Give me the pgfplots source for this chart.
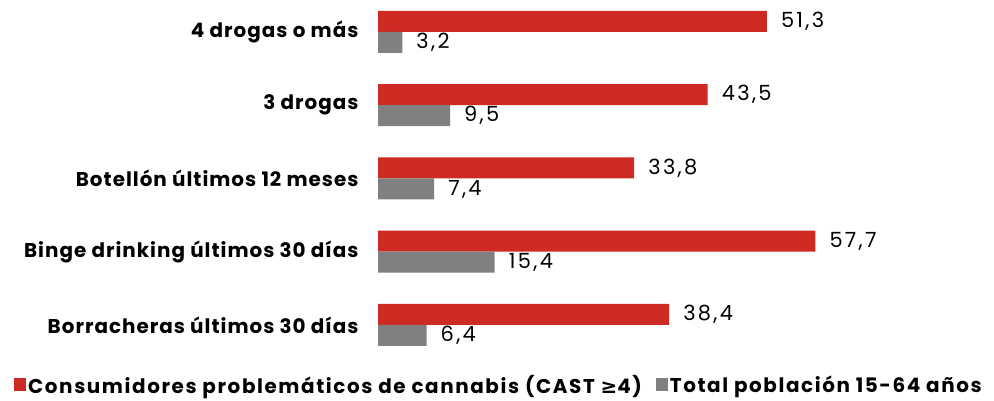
\documentclass[border=0pt]{standalone}
\usepackage{pgfplots}
\pgfplotsset{compat=1.18}
\usepackage{fontspec}
\setmainfont{Poppins}
\newfontfamily\catfont[LetterSpace=5]{Poppins}
\newfontfamily\valfont[LetterSpace=11]{Poppins}
\newfontfamily\legfont[LetterSpace=8]{Poppins}
\newfontfamily\symfont{DejaVu Sans}
\definecolor{cred}{RGB}{206,42,36}
\definecolor{cgrey}{RGB}{128,128,128}
\begin{document}
\begin{tikzpicture}[x=1bp,y=1bp]
\useasboundingbox (0,0) rectangle (994,400);
\begin{axis}[
 at={(378bp,38.4bp)}, anchor=south west,
 scale only axis, width=606.4bp, height=366.25bp,
 xmin=0, xmax=80, ymin=-0.5, ymax=4.5,
 xbar, bar width=21bp,
 axis line style={draw=none}, major tick length=0pt,
 xtick=\empty, ytick={0,1,2,3,4},
 yticklabels={Borracheras últimos 30 días, Binge drinking últimos 30 días, Botellón últimos 12 meses, 3 drogas, 4 drogas o más},
 yticklabel style={font=\catfont\bfseries\fontsize{20}{22}\selectfont, xshift=-16bp},
 /pgf/number format/use comma, /pgf/number format/fixed, /pgf/number format/fixed zerofill, /pgf/number format/precision=1, /pgf/number format/assume math mode=true,
 nodes near coords,
 nodes near coords style={font=\valfont\fontsize{21}{23}\selectfont, anchor=west, inner sep=0pt, xshift=14bp, text=black},
 legend columns=2,
 legend style={draw=none, at={(0.1995,-0.0639)}, anchor=center, font=\legfont\bfseries\fontsize{20}{22}\selectfont, /tikz/every even column/.append style={column sep=12bp}},
 legend image code/.code={\fill[#1] (0bp,-6bp) rectangle (12bp,7bp);},
]
\addplot[fill=cred, draw=none, bar shift=10.5bp] coordinates {(38.4,0) (57.7,1) (33.8,2) (43.5,3) (51.3,4)};
\addlegendentry{Consumidores problemáticos de cannabis (CAST {\symfont\bfseries ≥}4)}
\addplot[fill=cgrey, draw=none, bar shift=-10.5bp] coordinates {(6.4,0) (15.4,1) (7.4,2) (9.5,3) (3.2,4)};
\addlegendentry{Total población 15-64 años}
\end{axis}
\end{tikzpicture}
\end{document}
